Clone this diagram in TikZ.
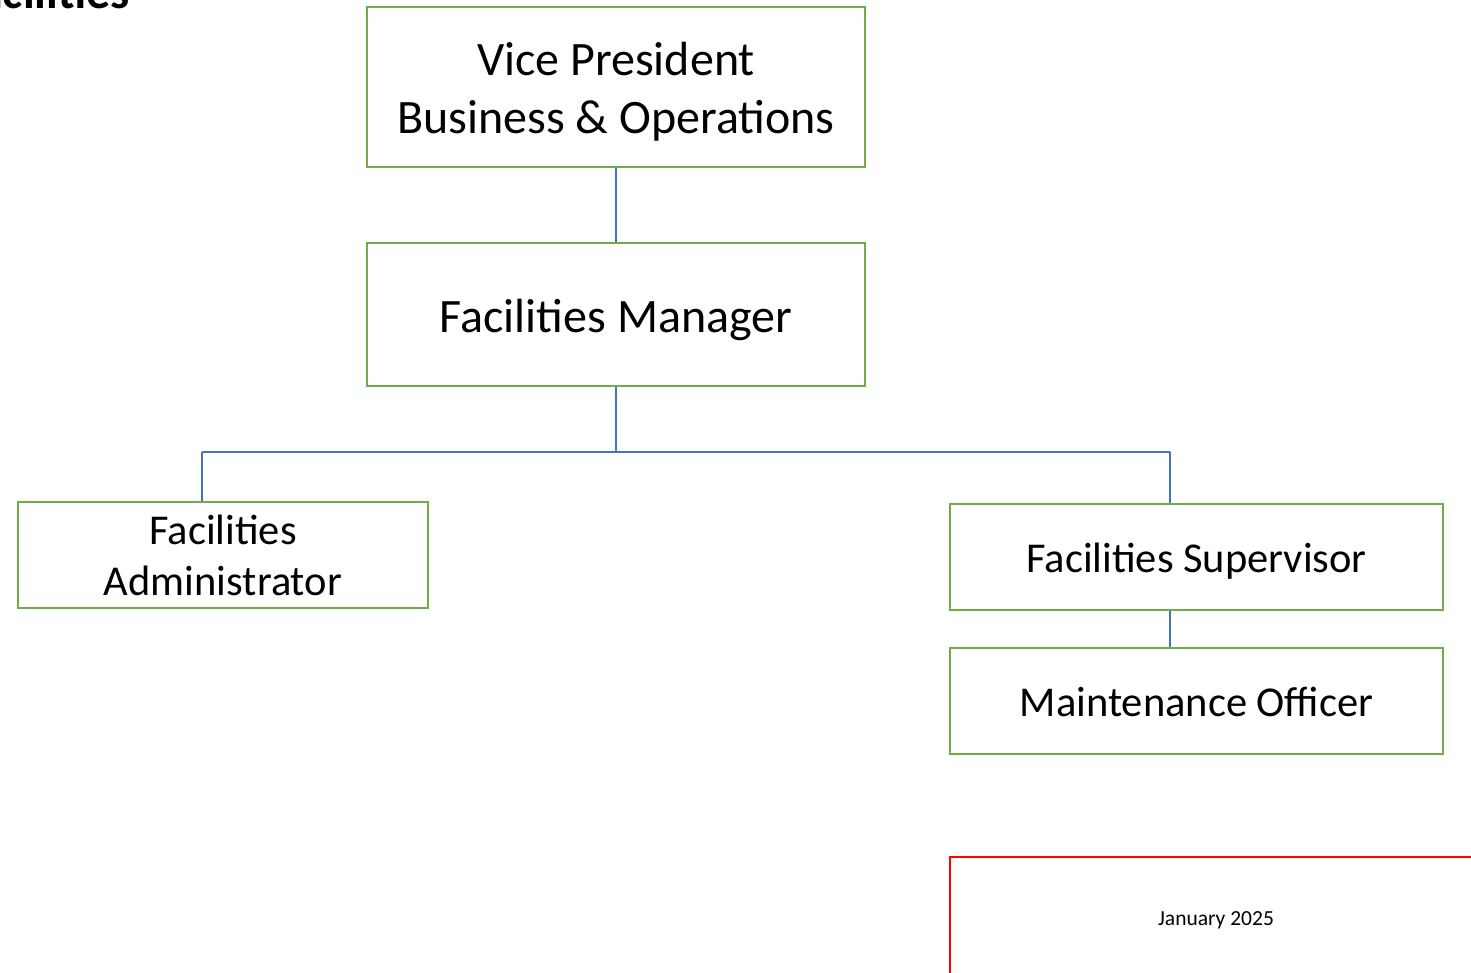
\documentclass[tikz,border=0pt]{standalone}
\usepackage{fontspec}
\setmainfont{Carlito}
\definecolor{boxgreen}{HTML}{70AD47}
\definecolor{linkblue}{HTML}{4472C4}
\begin{document}
\begin{tikzpicture}[x=1pt,y=-1pt,
  role/.style={draw=boxgreen,line width=2.5pt,fill=white,inner sep=0pt,align=center,font=\fontsize{48}{58}\selectfont},
  small/.style={font=\fontsize{42.5}{51}\selectfont,text height=38pt,text depth=8pt},
  link/.style={draw=linkblue,line width=1.2pt}]
\useasboundingbox (0,0) rectangle (1471,973);
\begin{scope}
\clip (0,0) rectangle (1471,973);
\node[anchor=base east,inner sep=0pt,font=\bfseries\fontsize{48}{58}\selectfont] (title) at (130,9) {Facilities};
\node[role,minimum width=498pt,minimum height=160pt,text height=103pt,text depth=10pt] (vp) at (616,87) {Vice President\\Business \& Operations};
\node[role,minimum width=498pt,minimum height=143pt,text height=46pt,text depth=10pt] (fm) at (616,314.5) {Facilities Manager};
\node[role,small,minimum width=410pt,minimum height=106pt,text height=81pt,text depth=0pt] (fa) at (223,555) {Facilities\\Administrator};
\node[role,small,minimum width=493pt,minimum height=106pt] (fs) at (1196.5,557) {Facilities Supervisor};
\node[role,small,minimum width=493pt,minimum height=106pt] (mo) at (1196.5,701) {Maintenance Officer};
\coordinate (fmbase) at (616,452);
\coordinate (left) at (202,452);
\coordinate (right) at (1170,452);
\draw[link] (vp.south) -- (fm.north);
\draw[link] (fm.south) -- (fmbase);
\draw[link] (left) -- (right);
\draw[link] (left) -- (left |- fa.north);
\draw[link] (right) -- (right |- fs.north);
\draw[link] (fs.south -| right) -- (mo.north -| right);
\draw[red,line width=2.5pt] (950,990) -- (950,857) -- (1490,857);
\node[font=\fontsize{21.5}{26}\selectfont] (date) at (1216,920) {January 2025};
\end{scope}
\end{tikzpicture}
\end{document}
